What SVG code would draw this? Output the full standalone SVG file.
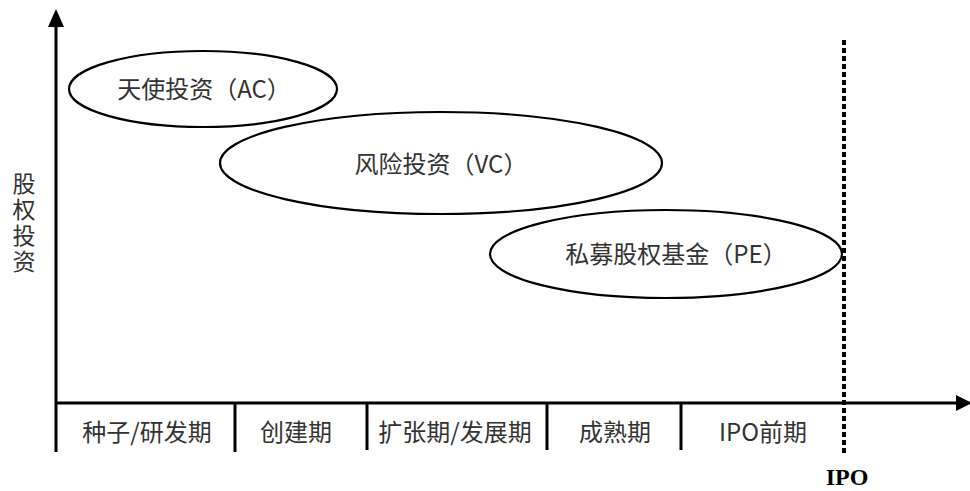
<svg xmlns="http://www.w3.org/2000/svg" width="970" height="491" viewBox="0 0 970 491">
<style>
.ln{stroke:#000;stroke-width:3;fill:none}
.el{stroke:#000;stroke-width:2.2;fill:none}
.t{font-family:"Noto Sans CJK SC","Noto Sans",sans-serif;font-size:24px;fill:#333;text-anchor:middle}
.ipo{font-family:"Liberation Serif",serif;font-size:24px;font-weight:bold;fill:#000;text-anchor:middle}
.v{font-family:"Noto Sans CJK SC","Noto Sans",sans-serif;font-size:23px;fill:#333;writing-mode:vertical-rl;letter-spacing:3px}
</style>
<rect width="970" height="491" fill="#fff"/>
<g id="connectors">
<line class="ln" x1="56" y1="452" x2="56" y2="22"/>
<polygon points="56,9 48,27 64,27" fill="#000"/>
<line class="ln" x1="55" y1="403" x2="958" y2="403"/>
<polygon points="972,403 956,395 956,411" fill="#000"/>
<line class="ln" x1="235" y1="403" x2="235" y2="452"/>
<line class="ln" x1="367" y1="403" x2="367" y2="450"/>
<line class="ln" x1="547" y1="403" x2="547" y2="450"/>
<line class="ln" x1="681" y1="403" x2="681" y2="450"/>
<line x1="844" y1="40" x2="844" y2="453" stroke="#000" stroke-width="4" stroke-dasharray="5,3"/>
</g>
<g id="axis-label">
<text class="v" x="24" y="172">股权投资</text>
</g>
<g id="node-ac">
<ellipse class="el" cx="203" cy="89" rx="134" ry="38"/>
<text class="t" x="204" y="98">天使投资（AC）</text>
</g>
<g id="node-vc">
<ellipse class="el" cx="441" cy="163" rx="221" ry="51"/>
<text class="t" x="441" y="173">风险投资（VC）</text>
</g>
<g id="node-pe">
<ellipse class="el" cx="666" cy="254" rx="176" ry="44"/>
<text class="t" x="676" y="263">私募股权基金（PE）</text>
</g>
<g id="stages">
<text class="t" x="147" y="441">种子/研发期</text>
<text class="t" x="296" y="441">创建期</text>
<text class="t" x="455" y="441">扩张期/发展期</text>
<text class="t" x="615" y="441">成熟期</text>
<text class="t" x="763" y="441">IPO前期</text>
</g>
<g id="ipo">
<text class="ipo" x="847" y="485">IPO</text>
</g>
</svg>
